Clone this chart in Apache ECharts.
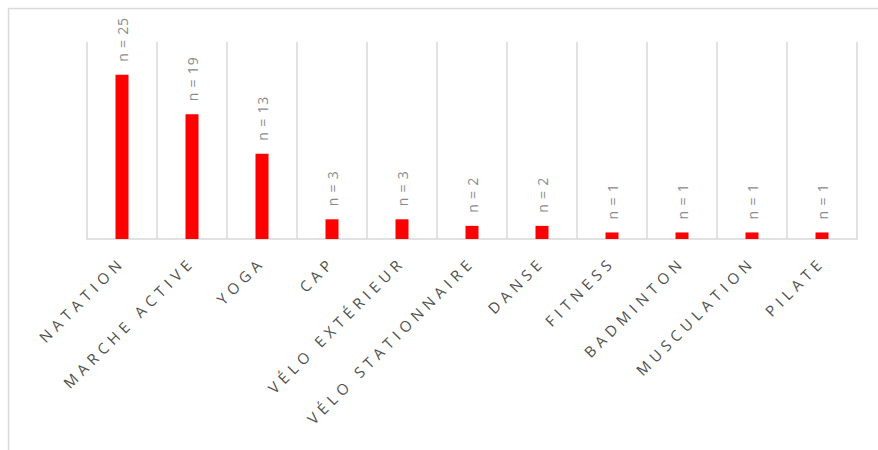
<!DOCTYPE html>
<html>
<head>
<meta charset="utf-8">
<script src="https://cdn.jsdelivr.net/npm/echarts@6/dist/echarts.min.js"></script>
<style>
  html, body { margin: 0; padding: 0; background: #ffffff; }
  #chart { width: 878px; height: 450px; }
  #chart svg text[fill="#505050"] { letter-spacing: 5px; }
  #chart svg text[fill="#8a8a8a"] { letter-spacing: 0.8px; }
</style>
</head>
<body>
<div id="chart"></div>
<script>
const categories = ["NATATION", "MARCHE ACTIVE", "YOGA", "CAP", "VÉLO EXTÉRIEUR", "VÉLO STATIONNAIRE", "DANSE", "FITNESS", "BADMINTON", "MUSCULATION", "PILATE"];
const counts = [25, 19, 13, 3, 3, 2, 2, 1, 1, 1, 1];
const valueLabelPrefix = "n = ";

const chart = echarts.init(document.getElementById('chart'), null, { renderer: 'svg' });
chart.setOption({
  animation: false,
  backgroundColor: '#ffffff',
  graphic: [{
    type: 'rect',
    shape: { x: 8.5, y: 8.5, width: 900, height: 500 },
    style: { fill: 'none', stroke: '#d9d9d9', lineWidth: 1.5 },
    silent: true
  }],
  grid: { left: 87, right: 21, top: 42, bottom: 211, containLabel: false },
  xAxis: {
    type: 'category',
    data: categories,
    boundaryGap: true,
    axisLine: { show: true, lineStyle: { color: '#d9d9d9', width: 1.5 } },
    axisTick: { show: false },
    splitLine: { show: true, lineStyle: { color: '#d9d9d9', width: 1.5 } },
    axisLabel: {
      interval: 0,
      rotate: 45,
      margin: 20,
      color: '#505050',
      fontFamily: 'Open Sans',
      fontSize: 15
    }
  },
  yAxis: {
    type: 'value',
    min: 0,
    max: 30,
    show: false,
    splitLine: { show: false }
  },
  series: [{
    type: 'bar',
    data: counts,
    barWidth: 13,
    itemStyle: { color: '#ff0000' },
    label: {
      show: true,
      position: 'top',
      distance: 13,
      rotate: 90,
      align: 'left',
      verticalAlign: 'middle',
      color: '#8a8a8a',
      fontFamily: 'Open Sans',
      fontSize: 14,
      formatter: p => valueLabelPrefix + p.value
    }
  }]
});
</script>
</body>
</html>
